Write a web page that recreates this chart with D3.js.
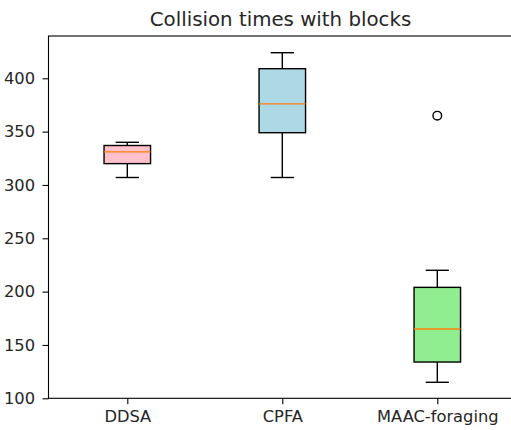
<!DOCTYPE html>
<html><head><meta charset="utf-8">
<script src="https://cdn.jsdelivr.net/npm/d3@7"></script>
<style>body{margin:0;background:#fff}svg{display:block}</style>
</head><body>
<script>
const categories = ["DDSA", "CPFA", "MAAC-foraging"];
const whiskerLow = [307, 307, 115];
const q1 = [320, 349, 134];
const median = [331, 376, 165];
const q3 = [337, 409, 204];
const whiskerHigh = [340, 424, 220];
const outliers = [[], [], [365]];
const fills = ["#ffc0cb", "#add8e6", "#90ee90"];
const yTicks = [100, 150, 200, 250, 300, 350, 400];
const title = "Collision times with blocks";

(function () {
const W = 511, H = 430;
const mLeft = 48.5, mRight = 515, mTop = 36, mBottom = 398.3;
const svg = d3.select("body").append("svg").attr("width", W).attr("height", H);

const x = d3.scaleLinear().domain([1, 3]).range([127.3, 437.3]);
const y = d3.scaleLinear().domain([100, 400]).range([398.3, 78.3]);
const boxW = 0.3, capW = 0.15;
const font = "DejaVu Sans, sans-serif";
const ink = "#000";
const textInk = "#262626";

const g = svg.append("g");
categories.forEach((c, i) => {
  const cx = x(i + 1);
  const hw = (x(1 + boxW / 2) - x(1));
  const cw = (x(1 + capW / 2) - x(1));
  g.append("line").attr("x1", cx).attr("x2", cx).attr("y1", y(q3[i])).attr("y2", y(whiskerHigh[i])).attr("stroke", ink).attr("stroke-width", 1.4);
  g.append("line").attr("x1", cx).attr("x2", cx).attr("y1", y(q1[i])).attr("y2", y(whiskerLow[i])).attr("stroke", ink).attr("stroke-width", 1.4);
  g.append("line").attr("x1", cx - cw).attr("x2", cx + cw).attr("y1", y(whiskerHigh[i])).attr("y2", y(whiskerHigh[i])).attr("stroke", ink).attr("stroke-width", 1.4);
  g.append("line").attr("x1", cx - cw).attr("x2", cx + cw).attr("y1", y(whiskerLow[i])).attr("y2", y(whiskerLow[i])).attr("stroke", ink).attr("stroke-width", 1.4);
  g.append("rect").attr("x", cx - hw).attr("y", y(q3[i])).attr("width", 2 * hw).attr("height", y(q1[i]) - y(q3[i]))
    .attr("fill", fills[i]).attr("stroke", ink).attr("stroke-width", 1.4);
  g.append("line").attr("x1", cx - hw).attr("x2", cx + hw).attr("y1", y(median[i])).attr("y2", y(median[i])).attr("stroke", "#ff7f0e").attr("stroke-width", 1.4);
  outliers[i].forEach(v => {
    g.append("circle").attr("cx", cx).attr("cy", y(v)).attr("r", 4.3).attr("fill", "none").attr("stroke", ink).attr("stroke-width", 1.4);
  });
});

svg.append("rect").attr("x", mLeft).attr("y", mTop).attr("width", mRight - mLeft).attr("height", mBottom - mTop)
  .attr("fill", "none").attr("stroke", ink).attr("stroke-width", 1.1);

const yAxis = svg.append("g").attr("transform", `translate(${mLeft},0)`)
  .call(d3.axisLeft(y).tickValues(yTicks).tickSize(6).tickPadding(7.5).tickFormat(d3.format("d")));
yAxis.select(".domain").remove();
yAxis.selectAll("line").attr("stroke", ink).attr("stroke-width", 1.1);
yAxis.selectAll("text").attr("font-family", font).attr("font-size", 16.3).attr("fill", textInk);

const xAxis = svg.append("g").attr("transform", `translate(0,${mBottom})`)
  .call(d3.axisBottom(x).tickValues([1, 2, 3]).tickSize(6).tickPadding(6).tickFormat((d) => categories[d - 1]));
xAxis.select(".domain").remove();
xAxis.selectAll("line").attr("stroke", ink).attr("stroke-width", 1.1);
xAxis.selectAll("text").attr("font-family", font).attr("font-size", 16.3).attr("fill", textInk);

svg.append("text").attr("x", 280.5).attr("y", 26).attr("text-anchor", "middle")
  .attr("font-family", font).attr("font-size", 19.8).attr("fill", textInk).text(title);
})();
</script>
</body></html>
